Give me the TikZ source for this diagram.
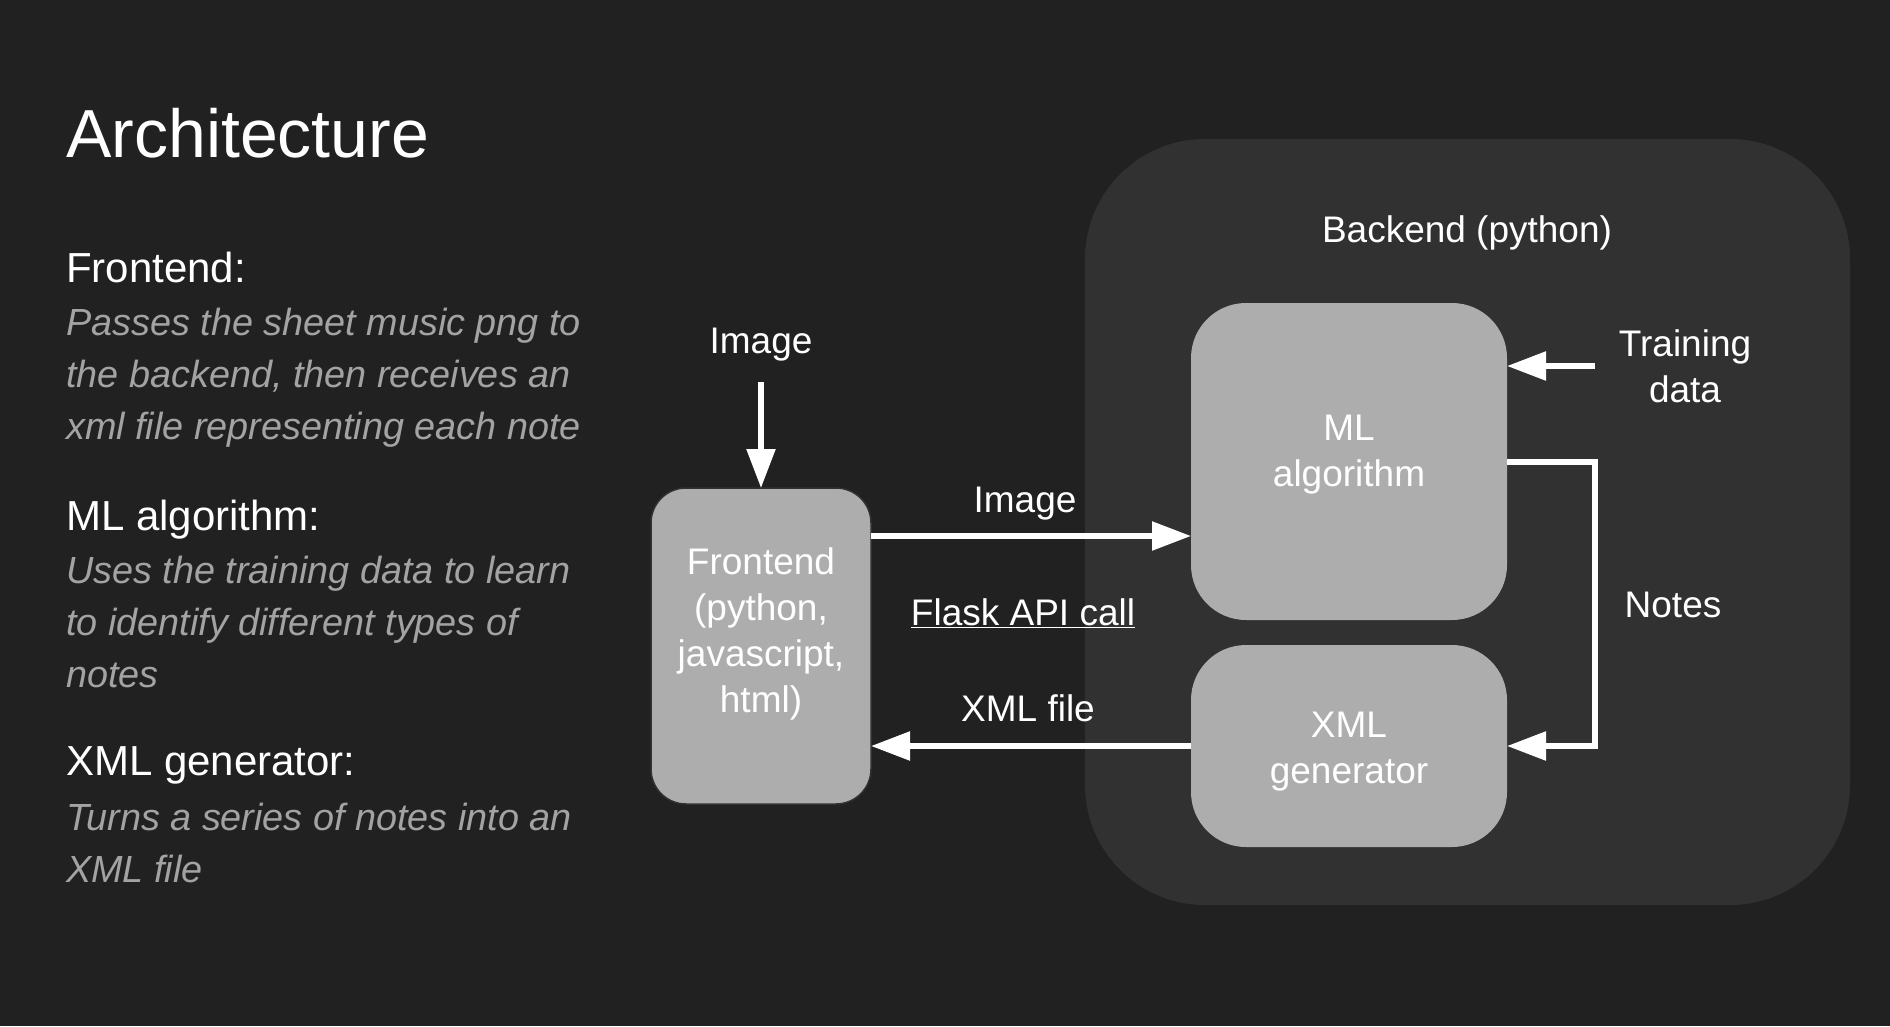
\documentclass[tikz,border=0pt]{standalone}
\usepackage{fontspec}
\setmainfont{Liberation Sans}
\usetikzlibrary{arrows.meta}
\definecolor{bgdark}{HTML}{212121}
\definecolor{backfill}{HTML}{313131}
\definecolor{boxfill}{HTML}{ADADAD}
\definecolor{descgray}{HTML}{A3A3A3}
\tikzset{>={Triangle[length=39pt,width=28pt]}}
\tikzset{
  head/.style={anchor=base west,inner sep=0pt,text=white,font=\fontsize{42}{50}\selectfont},
  desc/.style={anchor=base west,inner sep=0pt,text=descgray,font=\fontsize{37.8}{52}\selectfont\itshape,align=left},
  lbl/.style={inner sep=0pt,text=white,font=\fontsize{37}{46}\selectfont,align=center},
  flow/.style={draw=white,line width=5.5pt},
}

\begin{document}
\begin{tikzpicture}[x=1pt,y=-1pt]
\fill[bgdark] (0,0) rectangle (1890,1026);
\useasboundingbox (0,0) rectangle (1890,1026);
% left column (desc nodes sit on their last baseline)
\node[head,font=\fontsize{68}{80}\selectfont] (title) at (66,157) {Architecture};
\node[head] (fehead) at (66,282) {Frontend:};
\node[desc] (fedesc) at (66,439) {Passes the sheet music png to\\the backend, then receives an\\xml file representing each note};
\node[head] (mlhead) at (66,530) {ML algorithm:};
\node[desc] (mldesc) at (66,687) {Uses the training data to learn\\to identify different types of\\notes};
\node[head] (xmlhead) at (66,775) {XML generator:};
\node[desc] (xmldesc) at (66,882) {Turns a series of notes into an\\XML file};
% backend box
\fill[backfill,rounded corners=120pt] (1085,139) rectangle (1850,905);
\node[lbl] (backlbl) at (1467,233) {Backend (python)};
\fill[boxfill,rounded corners=55pt] (1191,303) rectangle (1507,620);
\fill[boxfill,rounded corners=55pt] (1191,645) rectangle (1507,847);
\node[lbl] (ml) at (1349,455) {ML\\algorithm};
\node[lbl] (xml) at (1349,752) {XML\\generator};
\coordinate (mlW) at (1191,536);
\coordinate (mlE) at (1507,366);
\coordinate (mlE2) at (1507,462);
\coordinate (xmlW) at (1191,746);
\coordinate (xmlE) at (1507,746);
% frontend
\filldraw[fill=boxfill,draw=backfill,line width=1.5pt,rounded corners=35pt] (651,488) rectangle (871,804);
\node[lbl] (fe) at (761,634) {Frontend\\(python,\\javascript,\\html)};
\coordinate (feN) at (761,488);
\coordinate (feE) at (871,536);
\coordinate (feE2) at (871,746);
% arrows
\node[lbl] (imgin) at (761,345) {Image};
\coordinate (imgtop) at (761,382);
\draw[flow,->] (imgtop) -- (feN);
\draw[flow,->] (feE) -- (mlW);
\node[lbl] (imglbl) at (1025,504) {Image};
\node[lbl] (flask) at (1023,613) {\underline{Flask API call}};
\draw[flow,->] (xmlW) -- (feE2);
\node[lbl] (xmllbl) at (1028,708) {XML file};
\coordinate (train) at (1595,366);
\draw[flow,->] (train) -- (mlE);
\node[lbl] (trainlbl) at (1685,366) {Training\\data};
\draw[flow,->] (mlE2) -- (1595,462) -- (1595,746) -- (xmlE);
\node[lbl] (noteslbl) at (1673,605) {Notes};
\end{tikzpicture}
\end{document}
